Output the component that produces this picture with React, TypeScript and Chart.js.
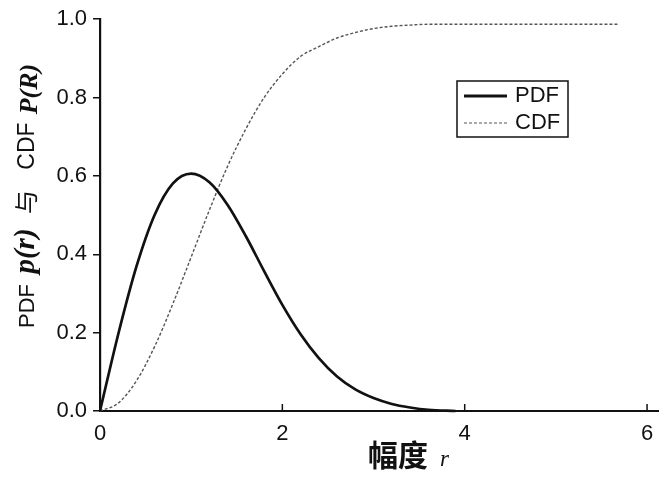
import React, { useEffect, useRef } from "react";
import { Chart, registerables } from "chart.js";

Chart.register(...registerables);

// ---- data ----
const PDF_R = [0, 0.2, 0.4, 0.6, 0.8, 1.0, 1.2, 1.4, 1.6, 1.8, 2.0, 2.2, 2.4, 2.6, 2.8, 3.0, 3.2, 3.4, 3.6, 3.9];
const PDF_VALUES = [0, 0.196, 0.369, 0.501, 0.581, 0.606, 0.584, 0.526, 0.446, 0.357, 0.271, 0.196, 0.135, 0.088, 0.055, 0.033, 0.018, 0.009, 0.003, 0.0];
const CDF_R = [0, 0.2, 0.4, 0.6, 0.8, 1.0, 1.2, 1.4, 1.6, 1.8, 2.0, 2.2, 2.4, 2.6, 2.8, 3.0, 3.2, 3.4, 3.6, 4.0, 5.69];
const CDF_VALUES = [0, 0.02, 0.077, 0.165, 0.274, 0.393, 0.513, 0.625, 0.72, 0.80, 0.86, 0.905, 0.93, 0.952, 0.966, 0.976, 0.982, 0.985, 0.987, 0.987, 0.987];
const X_TICKS = [0, 2, 4, 6];
const Y_TICKS = [0, 0.2, 0.4, 0.6, 0.8, 1.0];
const SERIES_LABELS = ["PDF", "CDF"];
const X_TITLE_CJK = "幅度";
const X_TITLE_VAR = "r";
const Y_TITLE_PARTS = ["PDF", "p(r)", "与", "CDF", "P(R)"];

const SANS = '"Liberation Sans", Arial, sans-serif';
const SERIF = '"Liberation Serif", "Times New Roman", serif';
const CJK = '"Noto Sans CJK SC", sans-serif';

const decorPlugin = {
  id: "decor",
  afterDraw(chart: any) {
    const ctx = chart.ctx as CanvasRenderingContext2D;
    const xs = chart.scales.x;
    const area = chart.chartArea;
    ctx.save();
    // inward x ticks
    ctx.strokeStyle = "#111";
    ctx.lineWidth = 1.5;
    X_TICKS.forEach((v) => {
      const px = xs.getPixelForValue(v);
      ctx.beginPath();
      ctx.moveTo(px, area.bottom);
      ctx.lineTo(px, area.bottom - 7);
      ctx.stroke();
    });

    // legend box
    ctx.lineWidth = 1.5;
    ctx.strokeStyle = "#111";
    ctx.strokeRect(457, 81, 111, 56);
    ctx.lineWidth = 3;
    ctx.beginPath();
    ctx.moveTo(464, 96);
    ctx.lineTo(507, 96);
    ctx.stroke();
    ctx.lineWidth = 1.2;
    ctx.strokeStyle = "#555";
    ctx.setLineDash([3, 2]);
    ctx.beginPath();
    ctx.moveTo(464, 123);
    ctx.lineTo(507, 123);
    ctx.stroke();
    ctx.setLineDash([]);
    ctx.fillStyle = "#111";
    ctx.font = `22px ${SANS}`;
    ctx.textAlign = "left";
    ctx.textBaseline = "middle";
    ctx.fillText(SERIES_LABELS[0], 515, 96);
    ctx.fillText(SERIES_LABELS[1], 515, 123);

    // x title
    ctx.font = `bold 30px ${CJK}`;
    ctx.textBaseline = "middle";
    ctx.fillText(X_TITLE_CJK, 368, 455);
    ctx.font = `italic 23px ${SERIF}`;
    ctx.textBaseline = "alphabetic";
    ctx.fillText(X_TITLE_VAR, 440, 466);

    // y title (rotated, mixed fonts)
    const segs = [
      { t: Y_TITLE_PARTS[0], f: `22px ${SANS}`, c: 306, b: 0 },
      { t: Y_TITLE_PARTS[1], f: `italic bold 29px ${SERIF}`, c: 251, b: 0 },
      { t: Y_TITLE_PARTS[2], f: `24px ${CJK}`, c: 202, b: 1 },
      { t: Y_TITLE_PARTS[3], f: `23px ${SANS}`, c: 146, b: 0 },
      { t: Y_TITLE_PARTS[4], f: `italic bold 26px ${SERIF}`, c: 89, b: 3 },
    ];
    ctx.translate(34, 0);
    ctx.rotate(-Math.PI / 2);
    ctx.textAlign = "center";
    ctx.textBaseline = "alphabetic";
    segs.forEach((s) => {
      ctx.font = s.f;
      ctx.fillText(s.t, -s.c, s.b);
    });
    ctx.restore();
  },
};

export default function App() {
  const ref = useRef<HTMLCanvasElement | null>(null);
  useEffect(() => {
    if (!ref.current) return;
    const chart = new Chart(ref.current, {
      type: "line",
      data: {
        datasets: [
          {
            label: SERIES_LABELS[0],
            data: PDF_R.map((r, i) => ({ x: r, y: PDF_VALUES[i] })),
            borderColor: "#111",
            borderWidth: 2.7,
            pointRadius: 0,
            cubicInterpolationMode: "monotone",
            clip: false,
          } as any,
          {
            label: SERIES_LABELS[1],
            data: CDF_R.map((r, i) => ({ x: r, y: CDF_VALUES[i] })),
            borderColor: "#555",
            borderWidth: 1.4,
            borderDash: [3, 2],
            pointRadius: 0,
            cubicInterpolationMode: "monotone",
            clip: false,
          } as any,
        ],
      },
      options: {
        animation: false,
        responsive: false,
        devicePixelRatio: 1,
        layout: { padding: { top: 18, left: 0, right: 14, bottom: 0 } },
        plugins: { legend: { display: false }, tooltip: { enabled: false } },
        scales: {
          x: {
            type: "linear",
            min: 0,
            max: 6.12,
            afterBuildTicks: (s: any) => {
              s.ticks = X_TICKS.map((v) => ({ value: v }));
            },
            afterFit: (s: any) => {
              s.height = 66;
            },
            grid: { display: false, drawTicks: false },
            border: { display: true, color: "#111", width: 2 },
            ticks: {
              padding: 10,
              color: "#111",
              font: { family: SANS, size: 22 },
              maxRotation: 0,
              callback: (v: any) => String(v),
            },
          },
          y: {
            type: "linear",
            min: 0,
            max: 1,
            afterBuildTicks: (s: any) => {
              s.ticks = Y_TICKS.map((v) => ({ value: v }));
            },
            afterFit: (s: any) => {
              s.width = 100;
            },
            grid: {
              display: true,
              drawOnChartArea: false,
              drawTicks: true,
              tickLength: 7,
              tickColor: "#111",
              lineWidth: 1.5,
            },
            border: { display: true, color: "#111", width: 2.2 },
            ticks: {
              padding: 6,
              color: "#111",
              font: { family: SANS, size: 22 },
              callback: (v: any) => Number(v).toFixed(1),
            },
          },
        },
      },
      plugins: [decorPlugin],
    });
    return () => chart.destroy();
  }, []);
  return (
    <div style={{ position: "fixed", left: 0, top: 0, width: 672, height: 477, background: "#fff" }}>
      <canvas ref={ref} width={672} height={477} />
    </div>
  );
}
